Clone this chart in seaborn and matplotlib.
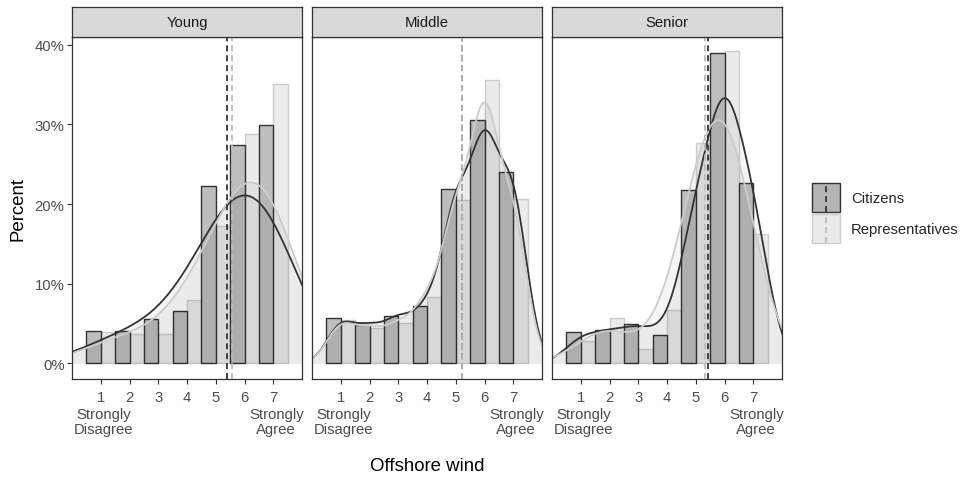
import numpy as np
import pandas as pd
import matplotlib
matplotlib.use("Agg")
import matplotlib.pyplot as plt
import matplotlib.transforms as mtransforms
import seaborn as sns
from matplotlib.ticker import PercentFormatter
from matplotlib.patches import Rectangle
from matplotlib.lines import Line2D
from matplotlib.legend_handler import HandlerBase

# ---- data -------------------------------------------------------------
levels = [1, 2, 3, 4, 5, 6, 7]
tick_labels = ["1", "2", "3", "4", "5", "6", "7"]
anchor_labels = {1: "Strongly\nDisagree", 7: "Strongly\nAgree"}
age_groups = ["Young", "Middle", "Senior"]
respondents = ["Citizens", "Representatives"]

# percent of respondents choosing each scale point
young_citizens = [4.1, 4.1, 5.6, 6.6, 22.3, 27.4, 29.9]
young_representatives = [3.9, 3.7, 3.7, 7.9, 17.2, 28.8, 35.0]
middle_citizens = [5.7, 4.8, 6.0, 7.2, 21.9, 30.5, 24.0]
middle_representatives = [5.5, 4.5, 5.1, 8.3, 20.5, 35.5, 20.6]
senior_citizens = [3.9, 4.2, 5.0, 3.6, 21.7, 39.0, 22.6]
senior_representatives = [2.8, 5.7, 1.8, 6.7, 27.7, 39.2, 16.3]

series = {
    ("Young", "Citizens"): young_citizens,
    ("Young", "Representatives"): young_representatives,
    ("Middle", "Citizens"): middle_citizens,
    ("Middle", "Representatives"): middle_representatives,
    ("Senior", "Citizens"): senior_citizens,
    ("Senior", "Representatives"): senior_representatives,
}

# kernel bandwidth (in scale points) used for each density curve
bandwidths = {
    ("Young", "Citizens"): 1.3,
    ("Young", "Representatives"): 1.2,
    ("Middle", "Citizens"): 0.5,
    ("Middle", "Representatives"): 0.5,
    ("Senior", "Citizens"): 0.6,
    ("Senior", "Representatives"): 0.78,
}

rows = []
for (age, grp), vals in series.items():
    for lvl, pct in zip(levels, vals):
        rows.append({"age": age, "group": grp, "level": lvl, "share": pct / 100})
df = pd.DataFrame(rows)

# ---- style ------------------------------------------------------------
sns.set_theme(style="white")
plt.rcParams["font.family"] = ["Liberation Sans", "DejaVu Sans"]

bar_fill = {"Citizens": "#BEBEBE", "Representatives": "#EBEBEB"}
bar_edge = {"Citizens": "#333333", "Representatives": "#CCCCCC"}
line_color = {"Citizens": "#333333", "Representatives": "#CCCCCC"}
mean_color = {"Citizens": "#333333", "Representatives": "#BBBBBB"}
key_fill = {"Citizens": "#B4B4B4", "Representatives": "#EAEAEA"}
dash = (0, (3.3, 2.2))

W, H = 967, 481
fig = plt.figure(figsize=(W / 100, H / 100), dpi=100)
fig.patch.set_facecolor("white")

panel_left = [72, 312, 552]
panel_w = 230
panel_top, panel_bottom = 38, 380
strip_top = 8
small = 10.7
big = 13.4
label_shift = mtransforms.ScaledTranslation(3 / 100, 0, fig.dpi_scale_trans)

for i, age in enumerate(age_groups):
    l = panel_left[i]
    ax = fig.add_axes([l / W, 1 - panel_bottom / H, panel_w / W, (panel_bottom - panel_top) / H])
    sub = df[df["age"] == age]

    # dodged bars, citizens on the left half of each bin
    sns.histplot(data=sub, x="level", weights="share", hue="group", hue_order=respondents,
                 discrete=True, multiple="dodge", shrink=1, stat="count",
                 palette=bar_fill, alpha=1, linewidth=1.0, legend=False, ax=ax)
    for p in ax.patches:
        fc = p.get_facecolor()
        for grp in respondents:
            if np.allclose(fc[:3], matplotlib.colors.to_rgb(bar_fill[grp]), atol=0.01):
                p.set_edgecolor(bar_edge[grp])

    # translucent density areas, then the density outlines
    for grp in respondents:
        g = sub[sub["group"] == grp]
        x = g["level"].to_numpy(dtype=float)
        w = g["share"].to_numpy()
        factor = bandwidths[(age, grp)] / np.sqrt(np.cov(x, aweights=w))
        sns.kdeplot(x=x, weights=w, bw_method=factor, fill=True, color="black",
                    alpha=0.04, linewidth=0, ax=ax)
    for grp in respondents:
        g = sub[sub["group"] == grp]
        x = g["level"].to_numpy(dtype=float)
        w = g["share"].to_numpy()
        factor = bandwidths[(age, grp)] / np.sqrt(np.cov(x, aweights=w))
        sns.kdeplot(x=x, weights=w, bw_method=factor, fill=False, color=line_color[grp],
                    linewidth=1.3, ax=ax)

    # group means
    for grp in respondents:
        g = sub[sub["group"] == grp]
        m = np.average(g["level"], weights=g["share"])
        ax.axvline(m, color=mean_color[grp], linestyle=dash, linewidth=1.3, zorder=5)

    ax.set_xlim(0, 8)
    ax.set_ylim(-0.0195, 0.4095)
    ax.set_xlabel("")
    ax.set_ylabel("")
    ax.set_xticks(levels)
    ax.set_xticklabels(tick_labels, fontsize=small, color="#4D4D4D")
    ax.tick_params(axis="x", bottom=True, length=3.4, width=0.8, color="#333333", pad=4.6)
    ax.set_yticks([0, 0.1, 0.2, 0.3, 0.4])
    if i == 0:
        ax.yaxis.set_major_formatter(PercentFormatter(1.0, decimals=0))
        ax.tick_params(axis="y", left=True, length=3.4, width=0.8, color="#333333",
                       labelsize=small, labelcolor="#4D4D4D", pad=2)
    else:
        ax.tick_params(axis="y", left=False, labelleft=False)
    ax.grid(False)
    for s in ax.spines.values():
        s.set_visible(True)
        s.set_color("#333333")
        s.set_linewidth(0.9)

    # scale end-point descriptions under the tick numbers
    trans = mtransforms.blended_transform_factory(ax.transData, fig.transFigure) + label_shift
    for lvl, txt in anchor_labels.items():
        ax.text(lvl, 1 - 408 / H, txt, transform=trans, ha="center", va="top",
                fontsize=small, color="#4D4D4D", linespacing=1.05, clip_on=False)

    sax = fig.add_axes([l / W, 1 - panel_top / H, panel_w / W, (panel_top - strip_top) / H])
    sax.set_facecolor("#D9D9D9")
    sax.set_xticks([])
    sax.set_yticks([])
    for s in sax.spines.values():
        s.set_visible(True)
        s.set_color("#333333")
        s.set_linewidth(0.9)
    sax.text(0.5, 0.5, age, ha="center", va="center", fontsize=small, color="#1A1A1A",
             transform=sax.transAxes)


class KeyWithMean(HandlerBase):
    def __init__(self, grp):
        super().__init__()
        self.grp = grp

    def create_artists(self, legend, orig_handle, xdescent, ydescent, width, height,
                       fontsize, trans):
        x0, y0 = -xdescent, -ydescent
        box = Rectangle((x0, y0), width, height, facecolor=key_fill[self.grp],
                        edgecolor=bar_edge[self.grp], linewidth=1.0, transform=trans)
        mid = x0 + width / 2
        ln = Line2D([mid, mid], [y0, y0 + height], color=mean_color[self.grp],
                    linestyle=dash, linewidth=1.3, transform=trans)
        return [box, ln]


handles = [Rectangle((0, 0), 1, 1) for _ in respondents]
fig.legend(handles=handles, labels=respondents,
           handler_map={h: KeyWithMean(g) for h, g in zip(handles, respondents)},
           loc="center left", bbox_to_anchor=(812 / W, 1 - 214 / H), frameon=False,
           fontsize=small, handlelength=1.9, handleheight=2.63, labelspacing=0.12,
           handletextpad=0.74, borderaxespad=0, borderpad=0)

fig.text(18 / W, 1 - 209 / H, "Percent", rotation=90, ha="center", va="center",
         fontsize=big, color="black")
fig.text(427 / W, 1 - 467 / H, "Offshore wind", ha="center", va="center",
         fontsize=big, color="black")

fig.savefig("out.png", dpi=100)
